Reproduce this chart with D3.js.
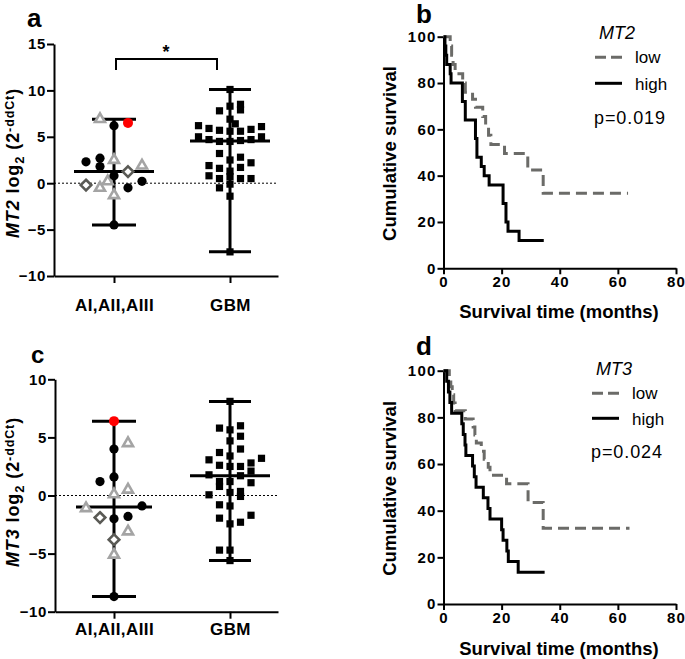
<!DOCTYPE html>
<html><head><meta charset="utf-8">
<script src="https://cdn.jsdelivr.net/npm/d3@7"></script>
<style>body{margin:0;background:#fff}</style>
</head><body>
<script>
// ---------------- DATA ----------------
const categories = ["AI,AII,AIII", "GBM"];

// Panel a: MT2 expression, astrocytoma grades I-III (col = beeswarm column index)
const mt2AstroCircle = [6.2, 2.3, 2.7, 1.8, 0.8, -0.5, 0.2, -4.5];
const mt2AstroCircleCol = [0, -2, -1, -1, 0, 1, 2, 0];
const mt2AstroTriangle = [6.9, 2.5, 1.9, -0.5, 0.2, -1.3];
const mt2AstroTriangleCol = [-1, 0, 2, -1, -0.45, 0];
const mt2AstroDiamond = [1.25, -0.2];
const mt2AstroDiamondCol = [1, -2];
const mt2AstroRed = [6.5];
const mt2AstroRedCol = [1];
// Panel a: MT2 expression, GBM
const mt2Gbm =    [10.1, 8.3, 6.9, 5.6, 4.5, 2.5, 1.3, 0.7, -0.1, -1.4, -7.4,
                   8.5, 7.9, 5.6, 4.6, 2.8, 1.7, 0.5, 6.4,
                   7.8, 5.7, 4.5, 3.2, 1.6, 0.5, -0.5,
                   5.9, 4.7, 1.9, 0.8, 6.2, 5.0,
                   5.8, 4.7, 2.2, 0.5, 6.1, 5.0];
const mt2GbmCol = [0, 0, 0, 0, 0, 0, 0, 0, 0, 0, 0,
                   1, 1, 1, 1, 1, 1, 1, 0.5,
                   -1, -1, -1, -1, -1, -1, -1,
                   -2, -2, -2, -2, -3, -3,
                   2, 2, 2, 2, 3, 3];

// Panel c: MT3 expression, astrocytoma grades I-III
const mt3AstroCircle = [4.0, 1.6, 1.2, -0.9, -2.0, -1.8, -8.7];
const mt3AstroCircleCol = [0, 0, -1, 2, 0, 1, 0];
const mt3AstroTriangle = [4.5, 0.1, 0.5, -1.1, -3.1, -5.1];
const mt3AstroTriangleCol = [1, 0, 1, -2, 1, 0];
const mt3AstroDiamond = [-1.9, -3.8];
const mt3AstroDiamondCol = [-1, 0];
const mt3AstroRed = [6.4];
const mt3AstroRedCol = [0];
// Panel c: MT3 expression, GBM
const mt3Gbm =    [8.1, 5.65, 4.7, 3.4, 2.5, 1.2, 0.26, -0.9, -2.44, -4.7, -5.6,
                   6.0, 5.1, 4.0, 2.5, 1.7, 0.35, -0.08, -2.3,
                   5.8, 3.7, 2.6, 1.2, 0.78, -0.8, -1.95, -4.7,
                   2.8, 2.1, 1.1, -1.7, 3.2,
                   3.07, 1.78, 0.06];
const mt3GbmCol = [0, 0, 0, 0, 0, 0, 0, 0, 0, 0, 0,
                   1, 1, 1, 1, 1, 1, 1, 1,
                   -1, -1, -1, -1, -1, -1, -1, -1,
                   2, 2, 2, 2, 3,
                   -2, -2, -2];

const yTicksA = [-10, -5, 0, 5, 10, 15];
const yTicksC = [-10, -5, 0, 5, 10];
const kmXTicks = [0, 20, 40, 60, 80];
const kmYTicks = [0, 20, 40, 60, 80, 100];

// Panel b: Kaplan-Meier, MT2
const mt2LowTime = [0, 2.3, 2.8, 3.3, 4, 6.6, 7.5, 10, 11, 13.5, 14.5, 15.5, 16.3, 21, 29, 34.3, 63.5];
const mt2LowSurv = [100, 96, 92, 88, 84, 80, 76, 73, 69.5, 65.5, 61.5, 57.5, 53.5, 49.6, 42.4, 32.4, 32.4];
const mt2HighTime = [0, 0.5, 0.8, 1.1, 2.3, 2.6, 6.5, 7.5, 11, 11.5, 13, 14, 15.7, 20.5, 21.5, 22.2, 26, 34.5];
const mt2HighSurv = [100, 96, 92, 88, 84, 80, 72, 64, 56, 48, 44, 40, 36, 28, 20, 16, 12, 12];

// Panel d: Kaplan-Meier, MT3
const mt3LowTime = [0, 2, 2.5, 3, 3.5, 4, 7.5, 10.2, 10.8, 11.3, 13, 14, 15.4, 16, 21.7, 29.1, 34.3, 64];
const mt3LowSurv = [100, 96.6, 93.1, 89.7, 86.2, 82.8, 79.3, 75.9, 72.4, 69, 65.5, 62, 58.6, 55.2, 51.5, 43.5, 32.5, 32.5];
const mt3HighTime = [0, 1.1, 1.7, 2.2, 2.8, 6.3, 6.8, 7.4, 7.7, 10, 10.6, 11.2, 13.7, 15.3, 16, 20, 20.5, 21.8, 22.3, 25.7, 34.8];
const mt3HighSurv = [100, 95.5, 90.9, 86.4, 81.8, 77.3, 72.7, 68.2, 63.6, 59.1, 54.5, 50, 45.5, 40.9, 36.4, 31.8, 27.3, 22.7, 18.2, 13.6, 13.6];

// ---------------- DRAWING ----------------
const FONT = '"Liberation Sans", Arial, Helvetica, sans-serif';
const svg = d3.select("body").append("svg").attr("width", 685).attr("height", 659)
  .style("display", "block");

function styleAxis(sel, fs, ls) {
  sel.selectAll(".domain, .tick line").attr("stroke", "#000").attr("stroke-width", 2);
  sel.selectAll(".tick text").attr("font-family", FONT).attr("font-size", fs)
    .attr("font-weight", "bold").attr("fill", "#000").attr("letter-spacing", ls + "px");
}

function panelLetter(x, y, t, fs) {
  svg.append("text").attr("x", x).attr("y", y).attr("font-family", FONT)
    .attr("font-weight", "bold").attr("font-size", fs).text(t);
}

function scatterTitle(x, y, gene) {
  const t = svg.append("text").attr("transform", `translate(${x},${y}) rotate(-90)`)
    .attr("text-anchor", "middle").attr("font-family", FONT).attr("font-weight", "bold")
    .attr("font-size", 18).attr("letter-spacing", "0.9px");
  t.append("tspan").attr("font-style", "italic").text(gene);
  t.append("tspan").text(" log");
  t.append("tspan").attr("font-size", 13).attr("dy", 5).text("2");
  t.append("tspan").attr("dy", -5).text(" (2");
  t.append("tspan").attr("font-size", 12.5).attr("dy", -5).text("-ddCt");
  t.append("tspan").attr("dy", 5).text(")");
}

function zipVals(vals, cols) { return vals.map((v, i) => ({ v, c: cols[i] })); }

function scatterPanel(p) {
  const y = d3.scaleLinear().domain(p.yDomain).range([p.yBottom, p.yTop]);
  const x = d3.scaleLinear().domain([0, 1]).range([p.cat0, p.cat1]);
  const xAx = d3.scaleLinear().domain([x.invert(p.xLeft), x.invert(p.xRight)]).range([p.xLeft, p.xRight]);
  const g = svg.append("g");

  g.append("line").attr("x1", p.xLeft).attr("x2", p.xRight).attr("y1", y(0)).attr("y2", y(0))
    .attr("stroke", "#000").attr("stroke-width", 1).attr("stroke-dasharray", "2,2");

  const ya = g.append("g").attr("transform", `translate(${p.xLeft},0)`)
    .call(d3.axisLeft(y).tickValues(p.yTicks).tickSize(7).tickSizeOuter(0).tickPadding(1));
  styleAxis(ya, 15, 0.6);
  const xa = g.append("g").attr("transform", `translate(0,${p.yBottom})`)
    .call(d3.axisBottom(xAx).tickValues([0, 1]).tickFormat(i => categories[i]).tickSize(7).tickSizeOuter(0).tickPadding(p.catPad));
  styleAxis(xa, 17, 0.4);

  // summary (median + range) per group
  const groups = [
    { cx: x(0), vals: [].concat(p.astro.circle, p.astro.tri, p.astro.dia, p.astro.red).map(d => d.v), medHalf: p.medHalfA, capHalf: 22 },
    { cx: x(1), vals: p.gbm.map(d => d.v), medHalf: 40, capHalf: 21 }
  ];
  groups.forEach(gr => {
    const [mn, mx] = d3.extent(gr.vals);
    const md = d3.median(gr.vals);
    const s = g.append("g").attr("stroke", "#000").attr("stroke-width", 3);
    s.append("line").attr("x1", gr.cx).attr("x2", gr.cx).attr("y1", y(mx)).attr("y2", y(mn));
    s.append("line").attr("x1", gr.cx - gr.capHalf).attr("x2", gr.cx + gr.capHalf).attr("y1", y(mx)).attr("y2", y(mx));
    s.append("line").attr("x1", gr.cx - gr.capHalf).attr("x2", gr.cx + gr.capHalf).attr("y1", y(mn)).attr("y2", y(mn));
    s.append("line").attr("x1", gr.cx - gr.medHalf).attr("x2", gr.cx + gr.medHalf).attr("y1", y(md)).attr("y2", y(md));
  });

  const ax = d => x(0) + d.c * 14;
  const gx = d => x(1) + d.c * 10.5;
  const s = 10, h1 = s / Math.sqrt(3), h2 = s / (2 * Math.sqrt(3));
  g.selectAll(".tri").data(p.astro.tri).join("path")
    .attr("d", d => `M${ax(d)},${y(d.v) - h1}L${ax(d) + s / 2},${y(d.v) + h2}L${ax(d) - s / 2},${y(d.v) + h2}Z`)
    .attr("fill", "#fff").attr("stroke", "#a4a4a4").attr("stroke-width", 2.6).attr("stroke-linejoin", "miter");
  const r = 5.3;
  g.selectAll(".dia").data(p.astro.dia).join("path")
    .attr("d", d => `M${ax(d)},${y(d.v) - r}L${ax(d) + r},${y(d.v)}L${ax(d)},${y(d.v) + r}L${ax(d) - r},${y(d.v)}Z`)
    .attr("fill", "#fff").attr("stroke", "#5a5a55").attr("stroke-width", 2.6);
  g.selectAll(".cir").data(p.astro.circle).join("circle")
    .attr("cx", ax).attr("cy", d => y(d.v)).attr("r", 4.6).attr("fill", "#000");
  g.selectAll(".red").data(p.astro.red).join("circle")
    .attr("cx", ax).attr("cy", d => y(d.v)).attr("r", 5).attr("fill", "#ff0000");
  g.selectAll(".sq").data(p.gbm).join("rect")
    .attr("x", d => gx(d) - 3.6).attr("y", d => y(d.v) - 3.6).attr("width", 7.2).attr("height", 7.2).attr("fill", "#000");
  return { x, y, g };
}

// Panel a
const pa = scatterPanel({
  yDomain: [-10, 15], yTop: 44, yBottom: 276, xLeft: 54, xRight: 278, cat0: 114, cat1: 230,
  yTicks: yTicksA, catPad: 16, medHalfA: 40,
  astro: { circle: zipVals(mt2AstroCircle, mt2AstroCircleCol), tri: zipVals(mt2AstroTriangle, mt2AstroTriangleCol),
           dia: zipVals(mt2AstroDiamond, mt2AstroDiamondCol), red: zipVals(mt2AstroRed, mt2AstroRedCol) },
  gbm: zipVals(mt2Gbm, mt2GbmCol)
});
// significance bracket
pa.g.append("path").attr("d", `M${pa.x(0) + 2},70V59H${pa.x(1) - 13}V70`)
  .attr("fill", "none").attr("stroke", "#000").attr("stroke-width", 2);
pa.g.append("text").attr("x", (pa.x(0) + pa.x(1)) / 2 - 6).attr("y", 58).attr("text-anchor", "middle")
  .attr("font-family", FONT).attr("font-weight", "bold").attr("font-size", 18).text("*");
scatterTitle(18.5, 163, "MT2");
panelLetter(27, 27, "a", 26);

// Panel c
scatterPanel({
  yDomain: [-10, 10], yTop: 379.3, yBottom: 611.7, xLeft: 55, xRight: 278, cat0: 114, cat1: 230,
  yTicks: yTicksC, catPad: 4, medHalfA: 38,
  astro: { circle: zipVals(mt3AstroCircle, mt3AstroCircleCol), tri: zipVals(mt3AstroTriangle, mt3AstroTriangleCol),
           dia: zipVals(mt3AstroDiamond, mt3AstroDiamondCol), red: zipVals(mt3AstroRed, mt3AstroRedCol) },
  gbm: zipVals(mt3Gbm, mt3GbmCol)
});
scatterTitle(18.5, 492, "MT3");
panelLetter(31, 363, "c", 24);

// Kaplan-Meier panels
function kmPanel(p) {
  const x = d3.scaleLinear().domain([0, 80]).range([443.5, 676]);
  const y = d3.scaleLinear().domain([0, 100]).range([p.yBottom, p.yTop]);
  const g = svg.append("g");
  const ya = g.append("g").attr("transform", "translate(443.5,0)")
    .call(d3.axisLeft(y).tickValues(kmYTicks).tickSize(6).tickSizeOuter(0).tickPadding(1));
  styleAxis(ya, 15, 1.2);
  const xa = g.append("g").attr("transform", `translate(0,${p.yBottom})`)
    .call(d3.axisBottom(x).tickValues(kmXTicks).tickSize(6).tickSizeOuter(0).tickPadding(2));
  styleAxis(xa, 15, 1.2);

  const line = d3.line().x(d => x(d[0])).y(d => y(d[1])).curve(d3.curveStepAfter);
  g.append("path").attr("d", line(p.lowT.map((t, i) => [t, p.lowS[i]])))
    .attr("fill", "none").attr("stroke", "#6b6b68").attr("stroke-width", 3).attr("stroke-dasharray", "11,6");
  g.append("path").attr("d", line(p.highT.map((t, i) => [t, p.highS[i]])))
    .attr("fill", "none").attr("stroke", "#000").attr("stroke-width", 3);

  svg.append("text").attr("transform", `translate(395.5,${(p.yTop + p.yBottom) / 2 + 1}) rotate(-90)`)
    .attr("text-anchor", "middle").attr("font-family", FONT).attr("font-weight", "bold")
    .attr("font-size", 18.5).text("Cumulative survival");
  svg.append("text").attr("x", 559).attr("y", p.xTitleY).attr("text-anchor", "middle")
    .attr("font-family", FONT).attr("font-weight", "bold").attr("font-size", 18.5).text("Survival time (months)");

  // legend
  const L = p.legend;
  svg.append("text").attr("x", L.x + 4).attr("y", L.geneY).attr("font-family", FONT)
    .attr("font-style", "italic").attr("font-size", 18).text(p.gene);
  svg.append("line").attr("x1", L.x).attr("x2", L.x + 27).attr("y1", L.lowY).attr("y2", L.lowY)
    .attr("stroke", "#6b6b68").attr("stroke-width", 3).attr("stroke-dasharray", "11,5");
  svg.append("text").attr("x", L.x + 40).attr("y", L.lowY + 6).attr("font-family", FONT)
    .attr("font-size", 17).text("low");
  svg.append("line").attr("x1", L.x).attr("x2", L.x + 27).attr("y1", L.highY).attr("y2", L.highY)
    .attr("stroke", "#000").attr("stroke-width", 3);
  svg.append("text").attr("x", L.x + 40).attr("y", L.highY + 6.5).attr("font-family", FONT)
    .attr("font-size", 17).text("high");
  svg.append("text").attr("x", L.x - 1).attr("y", L.pY).attr("font-family", FONT)
    .attr("font-size", 18).attr("letter-spacing", "0.9px").text(p.pText);
}

kmPanel({
  yTop: 36.7, yBottom: 268.3, xTitleY: 318, gene: "MT2", pText: "p=0.019",
  lowT: mt2LowTime, lowS: mt2LowSurv, highT: mt2HighTime, highS: mt2HighSurv,
  legend: { x: 595, geneY: 38.5, lowY: 57.3, highY: 83.3, pY: 124 }
});
panelLetter(416, 23, "b", 26);

kmPanel({
  yTop: 370.7, yBottom: 604, xTitleY: 655, gene: "MT3", pText: "p=0.024",
  lowT: mt3LowTime, lowS: mt3LowSurv, highT: mt3HighTime, highS: mt3HighSurv,
  legend: { x: 592, geneY: 375, lowY: 393.3, highY: 418.3, pY: 458.3 }
});
panelLetter(416, 355, "d", 26);
</script>
</body></html>
